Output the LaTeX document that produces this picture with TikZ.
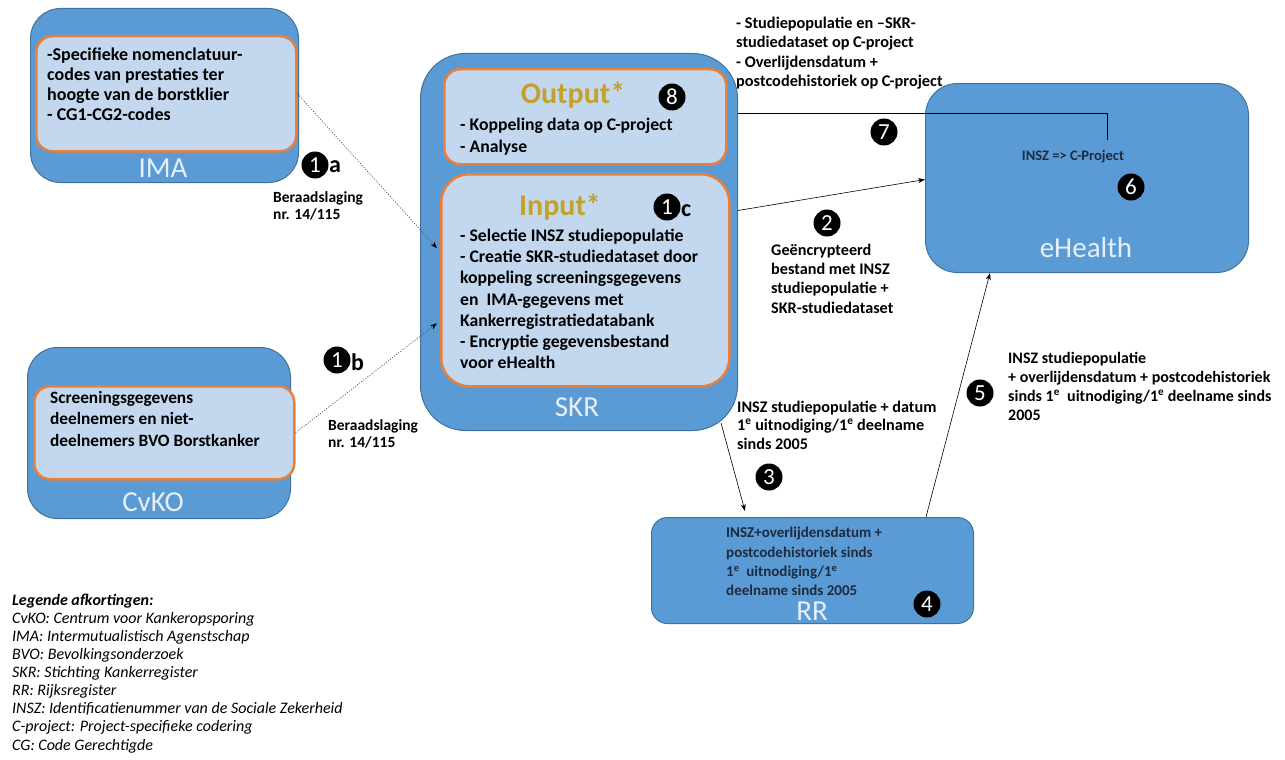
\documentclass[tikz,border=0pt]{standalone}
\usepackage{fontspec}
\setmainfont{Carlito}
\usetikzlibrary{arrows.meta,calc}
\definecolor{outerfill}{HTML}{5B9BD5}
\definecolor{outerline}{HTML}{41719C}
\definecolor{innerfill}{HTML}{C3D8EE}
\definecolor{innerline}{HTML}{E8803A}
\definecolor{gold}{HTML}{C4A22A}
\definecolor{lbltext}{HTML}{E6EFF8}
\definecolor{navy}{HTML}{1C2B40}
\begin{document}
\begin{tikzpicture}[x=1pt,y=-1pt,
  outerbox/.style={draw=outerline,line width=1pt,fill=outerfill,anchor=north west,inner sep=0pt},
  innerbox/.style={draw=innerline,line width=2.5pt,fill=innerfill,anchor=north west,inner sep=0pt,rounded corners=16pt},
  boxlbl/.style={text=lbltext,font=\fontsize{29}{30}\selectfont,inner sep=0pt},
  title/.style={text=gold,font=\bfseries\fontsize{30}{32}\selectfont,inner sep=0pt},
  numc/.style={circle,fill=black,text=white,minimum size=27pt,inner sep=0pt,font=\fontsize{23}{23}\selectfont},
  letter/.style={font=\bfseries\fontsize{24}{24}\selectfont,inner sep=0pt,anchor=west},
  txt/.style={anchor=north west,inner sep=0pt,align=left},
  conn/.style={line width=0.6pt,-{Stealth[length=7pt,width=5pt]}},
  dconn/.style={line width=0.8pt,draw=black!65,dash pattern=on 1pt off 1.6pt,-{Stealth[length=7pt,width=5pt,color=black]}},
  plain/.style={line width=0.6pt}]
\useasboundingbox (0,0) rectangle (1285,760);

% ---- boxes ----
\node[outerbox,rounded corners=30pt,minimum width=268pt,minimum height=174pt] (ima) at (30,8) {};
\node[innerbox,minimum width=260pt,minimum height=115pt] (imain) at (35,35) {};
\node[boxlbl] (imalbl) at (163,168) {IMA};

\node[outerbox,rounded corners=30pt,minimum width=263pt,minimum height=171pt] (cvko) at (27,347) {};
\node[innerbox,minimum width=260pt,minimum height=93pt] (cvkoin) at (33,385) {};
\node[boxlbl] (cvkolbl) at (153,502) {CvKO};

\node[outerbox,rounded corners=45pt,minimum width=317pt,minimum height=377pt] (skr) at (420,53) {};
\node[innerbox,minimum width=282pt,minimum height=95pt] (out) at (443,68) {};
\node[innerbox,rounded corners=28pt,minimum width=288pt,minimum height=212pt] (inp) at (440,173) {};
\node[boxlbl] (skrlbl) at (577,407) {SKR};

\node[outerbox,rounded corners=32pt,minimum width=323pt,minimum height=189pt] (ehealth) at (925,83) {};
\node[boxlbl] (ehlbl) at (1086,248) {eHealth};

\node[outerbox,rounded corners=16pt,minimum width=322pt,minimum height=106pt] (rr) at (651,517) {};
\node[boxlbl] (rrlbl) at (812,611) {RR};

% ---- box texts ----
\node[txt,font=\bfseries\fontsize{18}{20}\selectfont] (imatxt) at (47,47.8)
  {-Specifieke nomenclatuur-\\codes van prestaties ter\\hoogte van de borstklier\\- CG1-CG2-codes};
\node[txt,font=\bfseries\fontsize{17.3}{21.5}\selectfont] (cvkotxt) at (50,391)
  {Screeningsgegevens\\deelnemers en niet-\\deelnemers BVO Borstkanker};

\node[title] (outtitle) at (573,95) {Output*};
\node[txt,font=\bfseries\fontsize{17.7}{22}\selectfont] (outtxt) at (460,117.9)
  {- Koppeling data op C-project\\- Analyse};
\node[title] (inptitle) at (560,207) {Input*};
\node[txt,font=\bfseries\fontsize{17.7}{21.2}\selectfont] (inptxt) at (460,228.9)
  {- Selectie INSZ studiepopulatie\\- Creatie SKR-studiedataset door\\koppeling screeningsgegevens\\en\ \ IMA-gegevens met\\Kankerregistratiedatabank\\- Encryptie gegevensbestand\\voor eHealth};

\node[inner sep=0pt,text=navy,font=\bfseries\fontsize{14.5}{16}\selectfont] (ehtxt) at (1073,157) {INSZ => C-Project};
\node[txt,text=navy,font=\bfseries\fontsize{15}{19.3}\selectfont] (rrtxt) at (726,527)
  {INSZ+overlijdensdatum +\\postcodehistoriek sinds\\1\textsuperscript{e}\ \ uitnodiging/1\textsuperscript{e}\\deelname sinds 2005};

% ---- connector labels ----
\node[txt,font=\bfseries\fontsize{16.3}{19.5}\selectfont] (toptxt) at (736,16.5)
  {- Studiepopulatie en –SKR-\\studiedataset op C-project\\- Overlijdensdatum +\\postcodehistoriek op C-project};
\node[txt,font=\bfseries\fontsize{16.2}{19.4}\selectfont] (enctxt) at (771,243.5)
  {Geëncrypteerd\\bestand met INSZ\\studiepopulatie +\\SKR-studiedataset};
\node[txt,font=\bfseries\fontsize{16.2}{18.5}\selectfont] (rrqtxt) at (737,400.5)
  {INSZ studiepopulatie + datum\\1\textsuperscript{e} uitnodiging/1\textsuperscript{e} deelname\\sinds 2005};
\node[txt,font=\bfseries\fontsize{16}{19.3}\selectfont] (rratxt) at (1008,351.6)
  {INSZ studiepopulatie\\+ overlijdensdatum + postcodehistoriek\\sinds 1\textsuperscript{e}\ \ uitnodiging/1\textsuperscript{e} deelname sinds\\2005};
\node[txt,font=\bfseries\fontsize{15.5}{17}\selectfont] (ber1) at (273,191.8) {Beraadslaging\\nr. 14/115};
\node[txt,font=\bfseries\fontsize{15.5}{17}\selectfont] (ber2) at (328,419.8) {Beraadslaging\\nr. 14/115};

% ---- numbered circles ----
\node[numc] (n1a) at (315,165) {1};
\node[letter] (la) at (329,167) {a};
\node[numc] (n1b) at (337,360) {1};
\node[letter] (lb) at (351,362) {b};
\node[numc] (n1c) at (667,207) {1};
\node[letter] (lc) at (681,211) {c};
\node[numc] (n8) at (672,97) {8};
\node[numc] (n7) at (884,132) {7};
\node[numc] (n6) at (1131,187) {6};
\node[numc] (n2) at (827,223) {2};
\node[numc] (n3) at (769,477) {3};
\node[numc] (n4) at (927,604) {4};
\node[numc] (n5) at (980,393) {5};

% ---- connectors ----
\draw[dconn] (imain.east) -- ($(inp.west)+(-3,-32)$);
\draw[dconn] (cvkoin.east) -- ($(inp.west)+(-3,43)$);
\draw[conn] ($(skr.east)+(0,-31.5)$) -- ($(ehealth.west)+(0,1.5)$);
\draw[conn] ($(skr.south east)+(-17,-8)$) -- ($(rr.north west)+(94,-6)$);
\draw[conn] ($(rr.north east)+(-48,0)$) -- ($(ehealth.south west)+(65,0)$);
\coordinate (c7) at ($(ehealth.north west)+(182,57)$);
\draw[plain] ($(skr.east |- out.east)+(0,-3)$) -| (c7);

% ---- legend ----
\node[txt,font=\itshape\fontsize{16}{18.1}\selectfont] (legend) at (12,593.6)
  {\textbf{Legende afkortingen:}\\CvKO: Centrum voor Kankeropsporing\\IMA: Intermutualistisch Agenstschap\\BVO: Bevolkingsonderzoek\\SKR: Stichting Kankerregister\\RR: Rijksregister\\INSZ: Identificatienummer van de Sociale Zekerheid\\C-project: Project-specifieke codering\\CG: Code Gerechtigde};
\end{tikzpicture}
\end{document}
